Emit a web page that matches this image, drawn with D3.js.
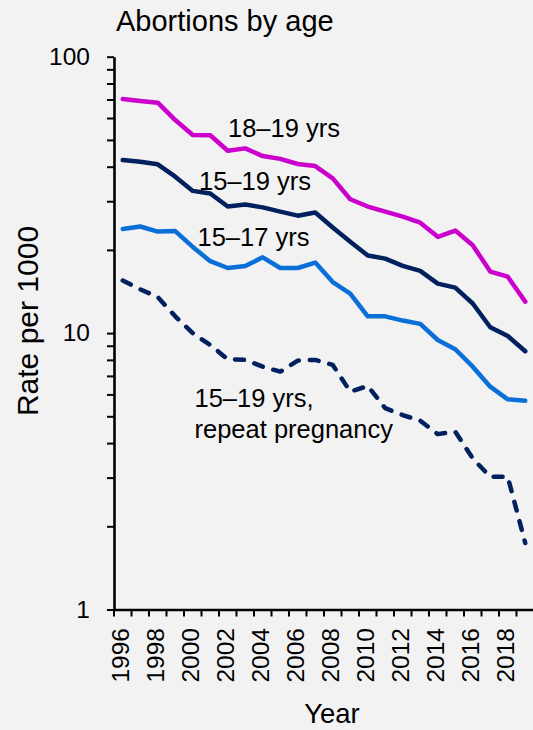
<!DOCTYPE html>
<html>
<head>
<meta charset="utf-8">
<script src="https://cdn.jsdelivr.net/npm/d3@7"></script>
<style>
  html, body { margin: 0; padding: 0; background: #f2f2f2; }
  svg { display: block; font-family: "Liberation Sans", Arial, sans-serif; }
</style>
</head>
<body>
<svg id="chart" width="533" height="730"></svg>
<script>
var years = d3.range(1996, 2020);
var age1819 = [70.3, 69.2, 68.2, 59.0, 52.1, 52.0, 45.7, 46.6, 43.7, 42.7, 40.9, 40.2, 36.3, 30.5, 28.7, 27.5, 26.4, 25.1, 22.3, 23.5, 20.8, 16.7, 16.0, 13.0];
var age1519 = [42.3, 41.7, 40.8, 36.8, 32.7, 32.0, 28.7, 29.2, 28.5, 27.5, 26.6, 27.3, 24.1, 21.4, 19.1, 18.6, 17.5, 16.8, 15.1, 14.6, 12.8, 10.5, 9.76, 8.6];
var age1517 = [23.8, 24.3, 23.3, 23.4, 20.5, 18.2, 17.2, 17.5, 18.8, 17.2, 17.2, 18.0, 15.3, 13.9, 11.5, 11.5, 11.1, 10.8, 9.44, 8.74, 7.56, 6.4, 5.76, 5.69];
var repeat1519 = [15.5, 14.4, 13.5, 11.5, 10.0, 9.06, 8.04, 8.0, 7.56, 7.25, 7.95, 8.0, 7.67, 6.14, 6.44, 5.35, 5.05, 4.82, 4.31, 4.4, 3.52, 3.02, 3.02, 1.74];
var yTicks = [1, 2, 3, 4, 5, 6, 7, 8, 9, 10, 20, 30, 40, 50, 60, 70, 80, 90, 100];
var yLabels = [1, 10, 100];

var series = [
  { name: "18–19 yrs", values: age1819, color: "#cc00cc", dash: null },
  { name: "15–19 yrs", values: age1519, color: "#00205e", dash: null },
  { name: "15–17 yrs", values: age1517, color: "#0a6fd6", dash: null },
  { name: "15–19 yrs, repeat pregnancy", values: repeat1519, color: "#00205e", dash: "9,11" }
];

var svg = d3.select("#chart");

var x = d3.scaleBand().domain(years).range([114, 534]).padding(0);
var y = d3.scaleLog().domain([1, 100]).range([609.5, 56.7]);

// y axis
var yAxis = d3.axisLeft(y)
  .tickValues(yTicks)
  .tickSize(7)
  .tickSizeOuter(0)
  .tickPadding(17)
  .tickFormat(function (d) { return yLabels.indexOf(d) >= 0 ? d : ""; });

var gy = svg.append("g").attr("transform", "translate(114,0)").call(yAxis);
gy.select(".domain").attr("stroke", "#000").attr("stroke-width", 2.6);
gy.selectAll(".tick line").attr("stroke", "#000").attr("stroke-width", 2);
gy.selectAll(".tick text")
  .attr("fill", "#000")
  .style("font-size", "24.5px")
  .attr("font-family", null);

// x axis, ticks between categories
var xAxis = d3.axisBottom(x)
  .tickSize(7)
  .tickSizeOuter(0)
  .tickFormat(function (d) { return d % 2 === 0 ? d : ""; });

var gx = svg.append("g").attr("transform", "translate(0,609.5)").call(xAxis);
gx.select(".domain").attr("stroke", "#000").attr("stroke-width", 2.6);
gx.selectAll(".tick line")
  .attr("stroke", "#000").attr("stroke-width", 2)
  .attr("x1", -x.bandwidth() / 2).attr("x2", -x.bandwidth() / 2);
gx.selectAll(".tick text")
  .attr("fill", "#000")
  .attr("font-family", null)
  .style("font-size", "24.5px")
  .attr("text-anchor", "end")
  .attr("transform", "translate(0,18.5) rotate(-90)")
  .attr("x", 0).attr("y", -2.6).attr("dy", "0.35em");

// lines
var line = d3.line()
  .x(function (d, i) { return x(years[i]) + x.bandwidth() / 2; })
  .y(function (d) { return y(d); });

svg.append("g").selectAll("path")
  .data(series.slice().reverse())
  .enter().append("path")
  .attr("d", function (s) { return line(s.values); })
  .attr("fill", "none")
  .attr("stroke", function (s) { return s.color; })
  .attr("stroke-width", 4.5)
  .attr("stroke-linejoin", "round")
  .attr("stroke-linecap", "round")
  .attr("stroke-dasharray", function (s) { return s.dash; });

// series labels
var labels = [
  { lines: ["18–19 yrs"], x: 228, y: 137 },
  { lines: ["15–19 yrs"], x: 199, y: 190 },
  { lines: ["15–17 yrs"], x: 197.5, y: 245.5 },
  { lines: ["15–19 yrs,", "repeat pregnancy"], x: 194.5, y: 406.5 }
];
labels.forEach(function (l) {
  var t = svg.append("text")
    .attr("x", l.x).attr("y", l.y)
    .style("font-size", "25.5px")
    .attr("fill", "#000");
  l.lines.forEach(function (s, i) {
    t.append("tspan").attr("x", l.x).attr("dy", i === 0 ? 0 : 31.8).text(s);
  });
});

// titles
svg.append("text")
  .attr("x", 116).attr("y", 31)
  .style("font-size", "29px")
  .attr("fill", "#000")
  .text("Abortions by age");

svg.append("text")
  .attr("transform", "translate(38.3,321) rotate(-90)")
  .attr("text-anchor", "middle")
  .style("font-size", "30px")
  .attr("fill", "#000")
  .text("Rate per 1000");

svg.append("text")
  .attr("x", 332).attr("y", 723)
  .attr("text-anchor", "middle")
  .style("font-size", "27.5px")
  .attr("fill", "#000")
  .text("Year");
</script>
</body>
</html>
